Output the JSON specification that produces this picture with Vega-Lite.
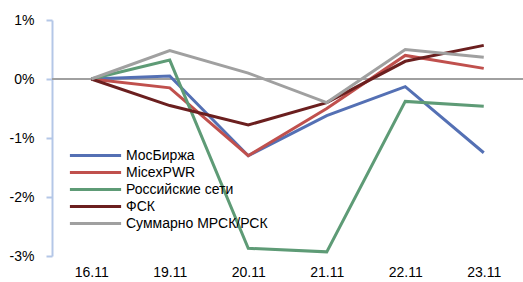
{
  "$schema": "https://vega.github.io/schema/vega-lite/v6.json",
  "width": 471,
  "height": 236,
  "autosize": "none",
  "padding": {"left": 52, "top": 20, "right": 0, "bottom": 26},
  "background": "white",
  "config": {"view": {"stroke": null}, "font": "Liberation Sans"},
  "data": {"values": [
    {"date": "16.11", "series": "МосБиржа", "value": 0},
    {"date": "19.11", "series": "МосБиржа", "value": 0.05},
    {"date": "20.11", "series": "МосБиржа", "value": -1.3},
    {"date": "21.11", "series": "МосБиржа", "value": -0.62},
    {"date": "22.11", "series": "МосБиржа", "value": -0.13},
    {"date": "23.11", "series": "МосБиржа", "value": -1.25},
    {"date": "16.11", "series": "MicexPWR", "value": 0},
    {"date": "19.11", "series": "MicexPWR", "value": -0.15},
    {"date": "20.11", "series": "MicexPWR", "value": -1.3},
    {"date": "21.11", "series": "MicexPWR", "value": -0.5},
    {"date": "22.11", "series": "MicexPWR", "value": 0.4},
    {"date": "23.11", "series": "MicexPWR", "value": 0.18},
    {"date": "16.11", "series": "Российские сети", "value": 0},
    {"date": "19.11", "series": "Российские сети", "value": 0.32},
    {"date": "20.11", "series": "Российские сети", "value": -2.87},
    {"date": "21.11", "series": "Российские сети", "value": -2.93},
    {"date": "22.11", "series": "Российские сети", "value": -0.38},
    {"date": "23.11", "series": "Российские сети", "value": -0.46},
    {"date": "16.11", "series": "ФСК", "value": 0},
    {"date": "19.11", "series": "ФСК", "value": -0.45},
    {"date": "20.11", "series": "ФСК", "value": -0.78},
    {"date": "21.11", "series": "ФСК", "value": -0.4},
    {"date": "22.11", "series": "ФСК", "value": 0.3},
    {"date": "23.11", "series": "ФСК", "value": 0.57},
    {"date": "16.11", "series": "Суммарно МРСК/РСК", "value": 0},
    {"date": "19.11", "series": "Суммарно МРСК/РСК", "value": 0.48},
    {"date": "20.11", "series": "Суммарно МРСК/РСК", "value": 0.1},
    {"date": "21.11", "series": "Суммарно МРСК/РСК", "value": -0.4},
    {"date": "22.11", "series": "Суммарно МРСК/РСК", "value": 0.5},
    {"date": "23.11", "series": "Суммарно МРСК/РСК", "value": 0.37}
  ]},
  "layer": [
    {
      "mark": {"type": "rule", "color": "#A0A0A0", "strokeWidth": 2},
      "data": {"values": [{"z": 0}]},
      "encoding": {"y": {"field": "z", "type": "quantitative"}}
    },
    {
      "mark": {"type": "line", "strokeWidth": 3},
      "encoding": {
        "x": {
          "field": "date", "type": "ordinal",
          "scale": {"type": "point", "padding": 0.5},
          "axis": {"title": null, "domain": false, "ticks": false, "labelAngle": 0, "labelFontSize": 14, "labelColor": "#000000", "labelPadding": 9, "labelFont": "Liberation Sans"}
        },
        "y": {
          "field": "value", "type": "quantitative",
          "scale": {"domain": [-3, 1], "nice": false},
          "axis": {"title": null, "values": [-3, -2, -1, 0, 1], "labelExpr": "datum.value + '%'", "grid": false, "domainColor": "#B4C7E7", "domainWidth": 2, "tickColor": "#B4C7E7", "tickSize": 6, "tickWidth": 2, "labelFontSize": 14, "labelColor": "#000000", "labelPadding": 12, "labelFont": "Liberation Sans"}
        },
        "color": {
          "field": "series", "type": "nominal",
          "scale": {
            "domain": ["МосБиржа", "MicexPWR", "Российские сети", "ФСК", "Суммарно МРСК/РСК"],
            "range": ["#5470B4", "#C0504D", "#5E9B76", "#6B1F1F", "#A0A0A0"]
          },
          "legend": {
            "title": null, "orient": "none", "legendX": 34, "legendY": 126,
            "symbolType": "M-3.2,0H3.2", "symbolSize": 256, "symbolStrokeWidth": 3,
            "labelFontSize": 14, "labelColor": "#000000", "labelFont": "Liberation Sans",
            "rowPadding": 0, "labelOffset": 21
          }
        }
      }
    }
  ]
}
